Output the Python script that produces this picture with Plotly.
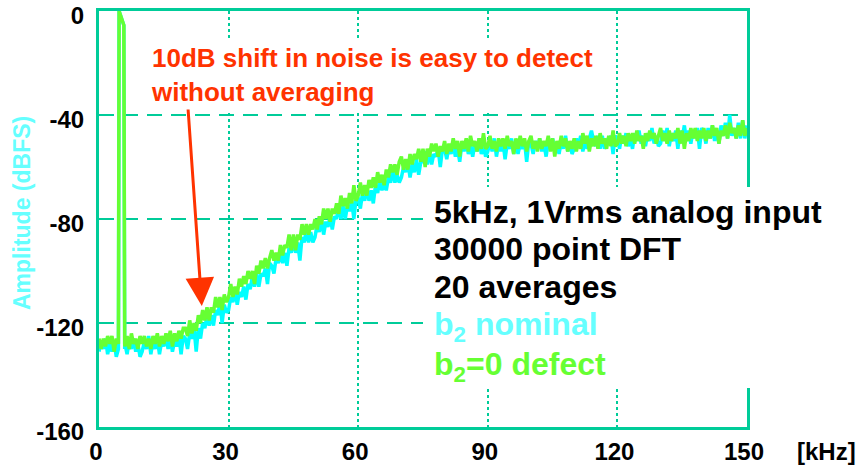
import plotly.graph_objects as go

# ---------------- data (0.5 kHz spacing) ----------------
freq_low_khz = [i / 2 for i in range(0, 9)]          # 0 .. 4
peak_khz = [4.5, 4.65, 5.75, 5.95]                   # 5 kHz test tone
freq_high_khz = [i / 2 for i in range(12, 301)]      # 6 .. 150

# b2=0 defect (green)
green_0_4 = [-126, -130, -126, -129, -125, -128, -125, -131, -126]
green_peak = [-128, 0, -5.5, -128]
green_6_10 = [-129, -125, -130, -124, -128, -126, -130, -125]
green_10_20 = [-128, -125, -129, -126, -130, -125, -128, -124, -129, -125,
               -128, -124, -127, -123, -129, -124, -127, -123, -126, -122]
green_20_30 = [-122, -125, -119, -124, -120, -123, -117, -120, -115, -119,
               -114, -119, -114, -116, -110, -114, -110, -115, -109, -112]
green_30_40 = [-110, -105, -110, -106, -109, -103, -106, -102, -105, -100,
               -103, -100, -105, -98, -101, -96, -99, -95, -99, -95]
green_40_50 = [-92, -96, -93, -96, -90, -94, -90, -91, -86, -92,
               -86, -92, -86, -88, -82, -86, -82, -86, -82, -84]
green_50_60 = [-80, -84, -79, -82, -76, -80, -76, -81, -76, -78,
               -74, -78, -71, -75, -72, -76, -70, -74, -67, -73]
green_60_70 = [-71, -66, -71, -67, -71, -65, -68, -64, -68, -62,
               -66, -63, -67, -61, -64, -59, -62, -59, -63, -58]
green_70_80 = [-56, -61, -57, -61, -55, -59, -55, -57, -53, -58,
               -53, -60, -53, -56, -51, -54, -51, -56, -52, -54]
green_80_90 = [-50, -55, -51, -54, -49, -53, -50, -56, -50, -53,
               -49, -54, -48, -52, -50, -54, -49, -53, -47, -53]
green_90_100 = [-52, -48, -53, -50, -54, -49, -52, -49, -53, -48,
                -52, -50, -55, -49, -53, -48, -52, -49, -54, -50]
green_100_110 = [-48, -53, -50, -54, -49, -53, -50, -52, -48, -54,
                 -49, -56, -50, -53, -48, -52, -49, -54, -50, -53]
green_110_120 = [-49, -54, -50, -53, -47, -51, -48, -54, -49, -52,
                 -48, -53, -47, -51, -49, -53, -48, -52, -46, -52]
green_120_130 = [-51, -47, -51, -48, -52, -47, -50, -47, -51, -46,
                 -50, -48, -53, -47, -50, -46, -49, -47, -51, -48]
green_130_140 = [-45, -50, -47, -51, -46, -50, -47, -49, -45, -51,
                 -46, -53, -47, -50, -45, -49, -45, -50, -46, -49]
green_140_150 = [-45, -50, -46, -49, -44, -48, -45, -51, -46, -48,
                 -44, -49, -43, -47, -45, -49, -44, -48, -42, -48, -45]

# b2 nominal (cyan)
cyan_0_4 = [-131, -127, -130, -126, -132, -128, -131, -127, -133]
cyan_peak = [-130, 0, -5.5, -130]
cyan_6_10 = [-128, -132, -127, -130, -126, -131, -128, -133]
cyan_10_20 = [-131, -127, -130, -125, -132, -127, -130, -126, -132, -127,
              -129, -125, -130, -126, -131, -127, -129, -125, -132, -125]
cyan_20_30 = [-126, -130, -124, -126, -122, -131, -122, -126, -120, -122,
              -117, -121, -117, -121, -115, -117, -112, -120, -113, -116]
cyan_30_40 = [-115, -110, -112, -107, -113, -108, -110, -106, -111, -105,
              -107, -102, -106, -101, -106, -101, -102, -99, -105, -97]
cyan_40_50 = [-98, -101, -95, -97, -93, -97, -93, -98, -91, -93,
              -88, -93, -89, -96, -87, -89, -84, -89, -85, -89]
cyan_50_60 = [-87, -82, -85, -80, -86, -81, -83, -79, -84, -79,
              -80, -75, -80, -75, -80, -75, -77, -73, -80, -72]
cyan_60_70 = [-72, -76, -70, -73, -68, -73, -69, -74, -67, -70,
              -65, -69, -66, -69, -64, -66, -61, -66, -63, -66]
cyan_70_80 = [-64, -60, -62, -58, -64, -59, -62, -57, -63, -58,
              -58, -54, -59, -54, -59, -55, -56, -53, -60, -53]
cyan_80_90 = [-53, -57, -52, -55, -51, -56, -53, -58, -51, -54,
              -50, -55, -52, -56, -51, -54, -49, -55, -52, -56]
cyan_90_100 = [-54, -50, -54, -49, -56, -51, -54, -50, -57, -51,
               -53, -49, -55, -50, -55, -51, -53, -50, -58, -50]
cyan_100_110 = [-51, -55, -50, -53, -49, -54, -51, -56, -50, -53,
                -49, -54, -51, -55, -50, -53, -48, -54, -51, -55]
cyan_110_120 = [-53, -49, -52, -48, -54, -50, -53, -49, -46, -50,
                -52, -48, -53, -48, -53, -49, -51, -48, -55, -48]
cyan_120_130 = [-49, -53, -48, -51, -47, -52, -49, -53, -47, -50,
                -46, -51, -48, -52, -47, -50, -45, -51, -48, -52]
cyan_130_140 = [-51, -46, -50, -45, -52, -47, -50, -46, -53, -46,
                -49, -44, -50, -46, -51, -46, -49, -45, -53, -45]
cyan_140_150 = [-47, -51, -45, -49, -44, -50, -46, -51, -44, -48,
                -43, -49, -40, -48, -45, -49, -43, -49, -42, -49, -44]

x_ticks = [0, 30, 60, 90, 120, 150]
y_ticks = [-160, -120, -80, -40, 0]

info_lines = ["5kHz, 1Vrms analog input", "30000 point DFT", "20 averages",
              "b<sub>2</sub> nominal", "b<sub>2</sub>=0 defect"]
note_text = "10dB shift in noise is easy to detect<br>without averaging"

# ---------------- assemble ----------------
freq_khz = freq_low_khz + peak_khz + freq_high_khz
green_db = (green_0_4 + green_peak + green_6_10 + green_10_20 + green_20_30 + green_30_40
            + green_40_50 + green_50_60 + green_60_70 + green_70_80 + green_80_90
            + green_90_100 + green_100_110 + green_110_120 + green_120_130
            + green_130_140 + green_140_150)
cyan_db = (cyan_0_4 + cyan_peak + cyan_6_10 + cyan_10_20 + cyan_20_30 + cyan_30_40
           + cyan_40_50 + cyan_50_60 + cyan_60_70 + cyan_70_80 + cyan_80_90
           + cyan_90_100 + cyan_100_110 + cyan_110_120 + cyan_120_130
           + cyan_130_140 + cyan_140_150)
assert len(freq_khz) == len(green_db) == len(cyan_db), (len(freq_khz), len(green_db), len(cyan_db))

TEAL = "#00CC99"
CYAN = "#00FFFF"
GREEN = "#66FF33"
LIGHT_CYAN = "#66FFFF"
RED = "#FF3300"
FONT = "Liberation Sans, Arial, sans-serif"

# plot-area pixel geometry
L, R, T, B = 99, 747, 11, 427
PW, PH = R - L, B - T


def px(xp):
    return (xp - L) / PW


def py(yp):
    return (B - yp) / PH


fig = go.Figure()
fig.add_trace(go.Scatter(x=freq_khz, y=cyan_db, mode="lines",
                         line=dict(color=CYAN, width=3.5), name="b2 nominal"))
fig.add_trace(go.Scatter(x=freq_khz, y=green_db, mode="lines",
                         line=dict(color=GREEN, width=3.5), name="b2=0 defect"))

fig.update_layout(
    width=860, height=471,
    margin=dict(l=L, r=860 - R, t=T, b=471 - B, pad=0),
    paper_bgcolor="white", plot_bgcolor="white",
    showlegend=False,
    font=dict(family=FONT, color="black"),
)

fig.update_xaxes(
    range=[0, 150], tickvals=x_ticks, ticktext=[f"<b>{v}</b>" for v in x_ticks],
    tickfont=dict(family=FONT, size=24, color="black"),
    showgrid=True, gridcolor=TEAL, gridwidth=1.5, griddash="dot",
    showline=True, linecolor=TEAL, linewidth=3, mirror=True,
    zeroline=False, ticks="", ticklabelstandoff=1, ticklabelshift=-3,
    automargin=False, ticklabeloverflow="allow",
)
fig.update_yaxes(
    range=[-160, 0], tickvals=y_ticks, ticktext=[f"<b>{v}</b>" for v in y_ticks],
    tickfont=dict(family=FONT, size=24, color="black"),
    showgrid=True, gridcolor=TEAL, gridwidth=2, griddash="15px,9px",
    showline=True, linecolor=TEAL, linewidth=3, mirror=True,
    zeroline=False, ticks="", ticklabelstandoff=7, ticklabelshift=5,
    automargin=False, ticklabeloverflow="allow",
)

# y-axis title
fig.add_annotation(
    xref="paper", yref="paper", x=px(22), y=py(213),
    text="<b>Amplitude (dBFS)</b>", textangle=-90, showarrow=False,
    font=dict(family=FONT, size=23, color=LIGHT_CYAN),
    xanchor="center", yanchor="middle",
)
# x unit label
fig.add_annotation(
    xref="paper", yref="paper", x=px(826), y=py(452),
    text="<b>[kHz]</b>", showarrow=False,
    font=dict(family=FONT, size=24, color="black"),
    xanchor="center", yanchor="middle",
)
# red note
fig.add_annotation(
    xref="paper", yref="paper", x=px(146), y=py(38),
    text=f"<b>{note_text}</b>",
    showarrow=False, align="left", xanchor="left", yanchor="top",
    font=dict(family=FONT, size=26, color=RED),
    bgcolor="white", borderpad=4,
)
# red arrow
fig.add_annotation(
    x=23.8, y=-113.5, ax=20.6, ay=-37.3, xref="x", yref="y", axref="x", ayref="y",
    text="", showarrow=True, arrowhead=2, arrowsize=1.9, arrowwidth=3,
    arrowcolor=RED,
)

# white panel behind the info block (hides grid and frame there)
fig.add_shape(type="rect", xref="paper", yref="paper",
              x0=px(423), x1=px(862), y0=py(388), y1=py(187),
              fillcolor="white", line=dict(width=0), layer="above")

line_centers = [212, 249, 287, 326, 366]
line_colors = ["black", "black", "black", LIGHT_CYAN, GREEN]
for txt, yc, col in zip(info_lines, line_centers, line_colors):
    fig.add_annotation(
        xref="paper", yref="paper", x=px(432), y=py(yc),
        text=f"<b>{txt}</b>", showarrow=False, align="left",
        xanchor="left", yanchor="middle",
        font=dict(family=FONT, size=32, color=col),
    )

fig.write_html("out.html")
